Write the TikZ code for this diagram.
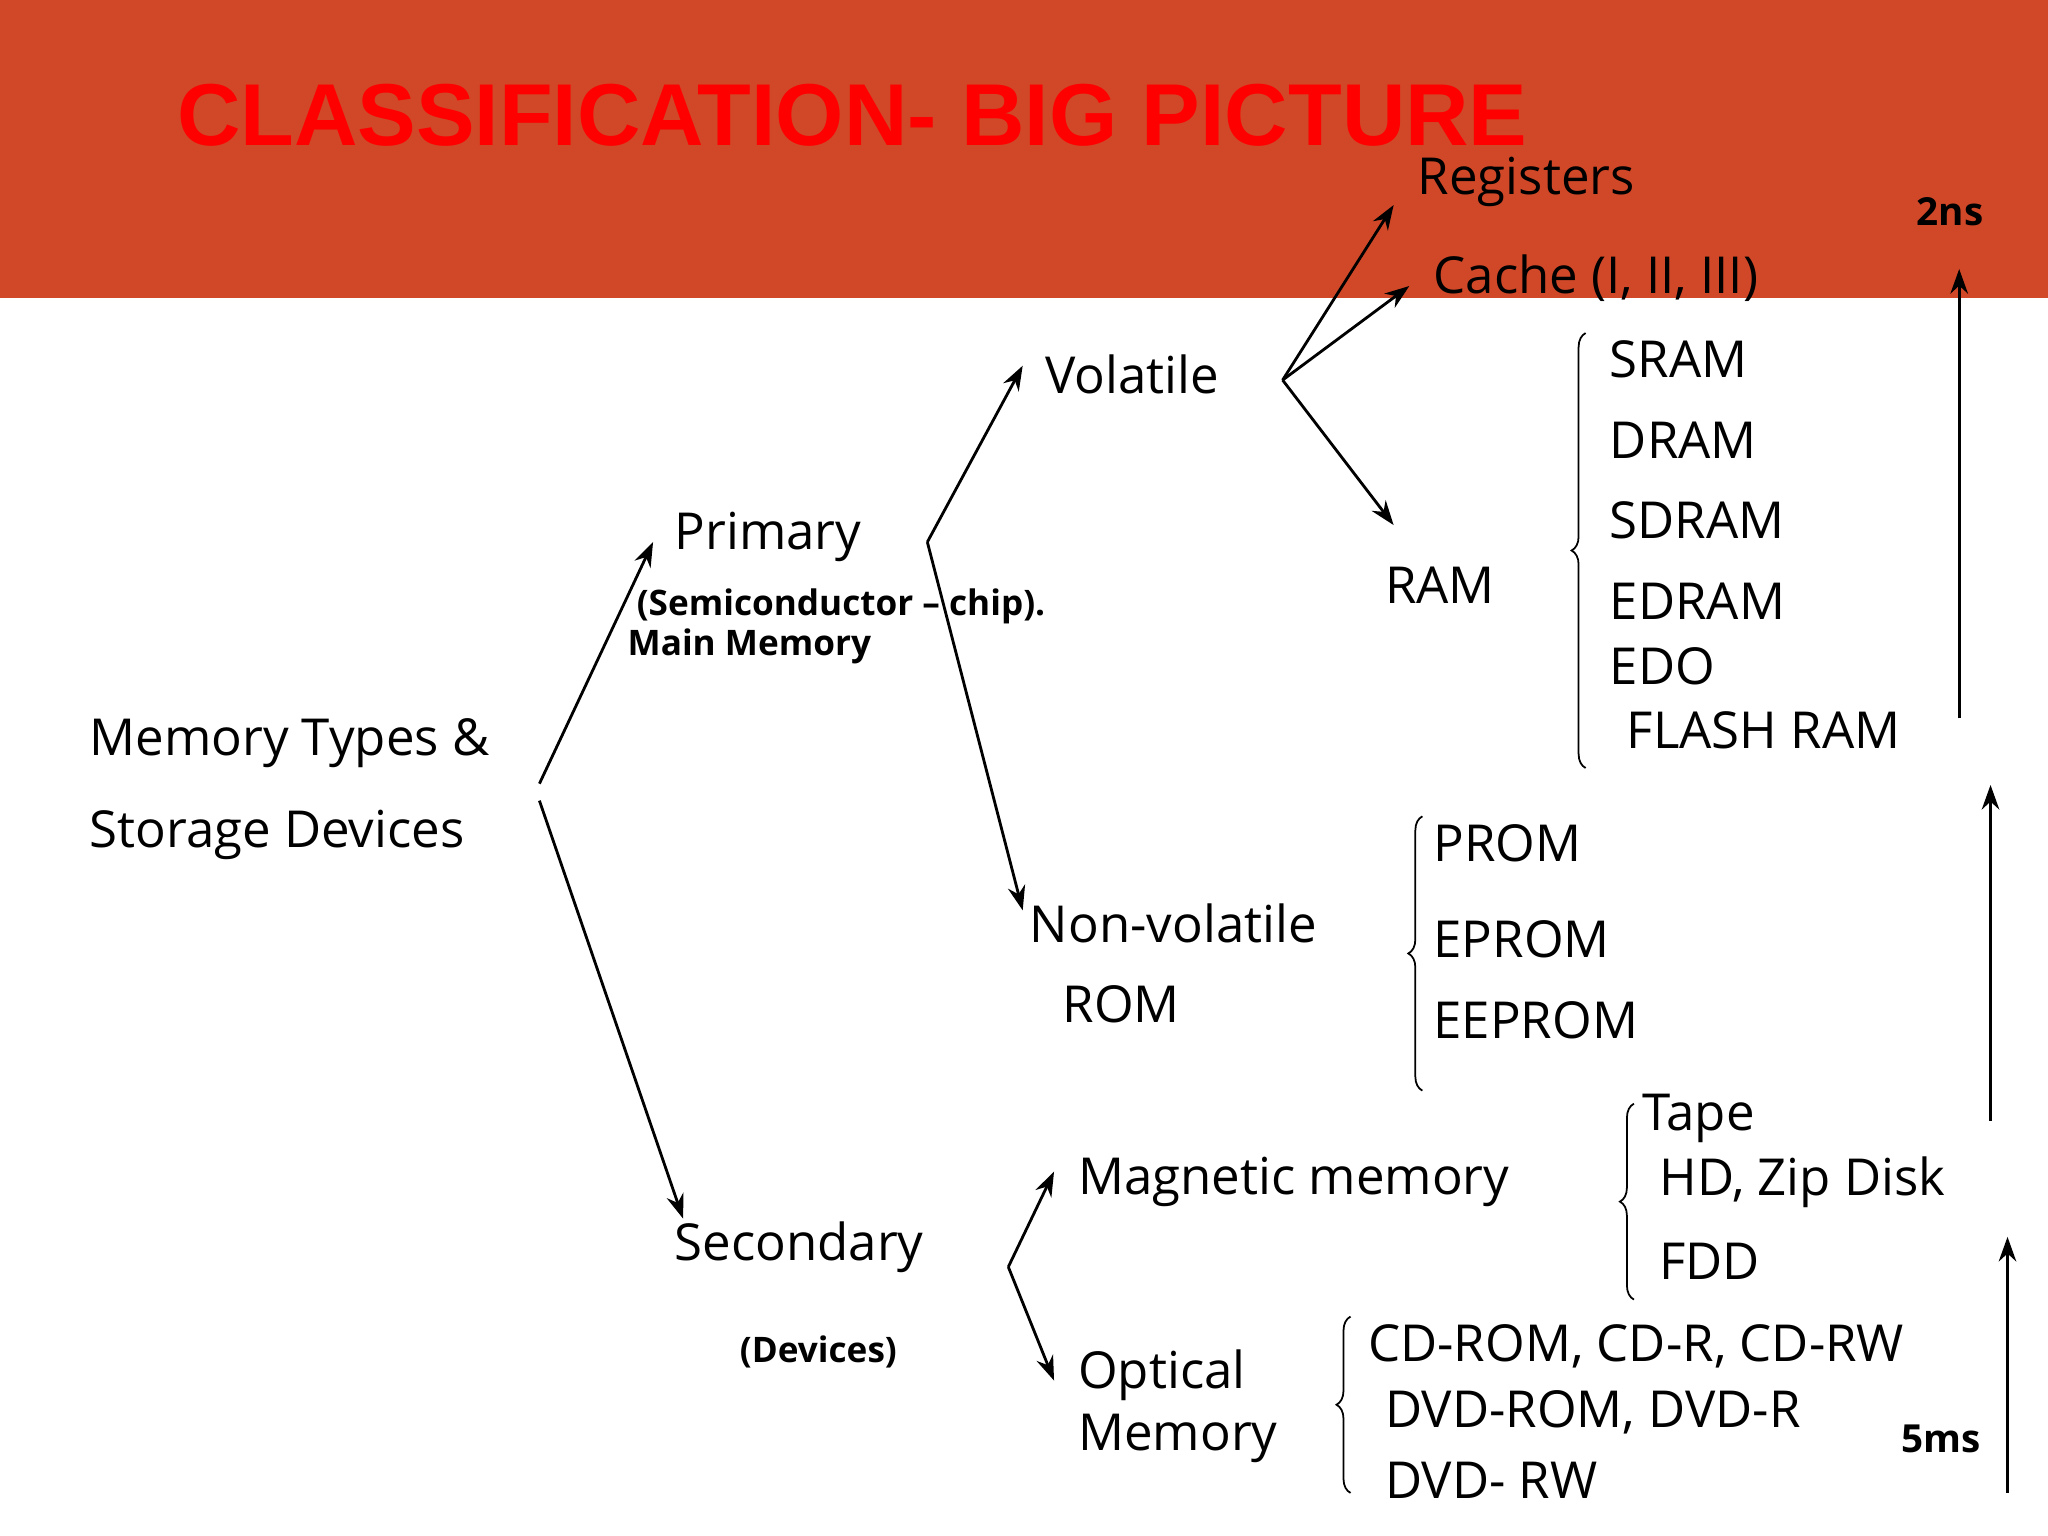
\documentclass[tikz,border=0pt]{standalone}
\usepackage{fontspec}
\setmainfont{Open Sans}
\newfontfamily\titlefont{Liberation Sans}
\usetikzlibrary{arrows.meta,decorations.pathreplacing}
\definecolor{hdr}{HTML}{D14828}
\begin{document}
\begin{tikzpicture}[x=0.013061cm,y=-0.013061cm,
  t/.style={anchor=west,inner sep=0pt,font=\fontsize{14.5}{16}\selectfont},
  bt/.style={anchor=west,inner sep=0pt,font=\fontsize{10}{12}\selectfont\bfseries},
  arr/.style={-{Stealth[length=7pt,width=5pt]},line width=0.8pt},
  br/.style={decorate,decoration={brace,mirror,amplitude=4pt},line width=0.5pt}]
\useasboundingbox (0,0) rectangle (1568,1176);
\fill[white] (0,0) rectangle (1568,1176);
\fill[hdr] (0,0) rectangle (1568,228);
\node[anchor=west,inner sep=0pt,text=red,font=\titlefont\fontsize{25}{28}\selectfont\bfseries] (title) at (135,88) {CLASSIFICATION- BIG PICTURE};
\node[t] (mt) at (68,569) {Memory Types \&};
\node[t] (sd) at (68,639) {Storage Devices};
\node[t] (pri) at (516,411) {Primary};
\node[bt] (semi) at (487,464) {(Semiconductor – chip).};
\node[bt] (mm) at (480,495) {Main Memory};
\node[t] (sec) at (516,955) {Secondary};
\node[bt] (dev) at (566,1035) {(Devices)};
\node[t] (vol) at (800,287) {Volatile};
\node[t] (nv) at (788,707) {Non-volatile};
\node[t] (rom) at (813,769) {ROM};
\node[t] (reg) at (1085,139) {Registers};
\node[t] (cache) at (1097,213) {Cache (I, II, III)};
\node[t] (ram) at (1060,448) {RAM};
\node[t] (sram) at (1232,275) {SRAM};
\node[t] (dram) at (1232,337) {DRAM};
\node[t] (sdram) at (1232,398) {SDRAM};
\node[t] (edram) at (1232,460) {EDRAM};
\node[t] (edo) at (1232,510) {EDO};
\node[t] (flash) at (1245,559) {FLASH RAM};
\node[t] (prom) at (1097,646) {PROM};
\node[t] (eprom) at (1097,719) {EPROM};
\node[t] (eeprom) at (1097,781) {EEPROM};
\node[t] (mag) at (825,905) {Magnetic memory};
\node[t] (opt) at (825,1053) {Optical};
\node[t] (optm) at (825,1101) {Memory};
\node[t] (tape) at (1257,856) {Tape};
\node[t] (hd) at (1270,905) {HD, Zip Disk};
\node[t] (fdd) at (1270,966) {FDD};
\node[t] (cd) at (1047,1031) {CD-ROM, CD-R, CD-RW};
\node[t] (dvd) at (1060,1081) {DVD-ROM, DVD-R};
\node[t] (dvdrw) at (1060,1133) {DVD- RW};
\node[bt,font=\fontsize{11}{13}\selectfont\bfseries] (ns) at (1467,162) {2ns};
\node[bt,font=\fontsize{11}{13}\selectfont\bfseries] (ms) at (1455,1102) {5ms};
% connector coordinates
\coordinate (r0) at (413,600); \coordinate (r1) at (413,613);
\coordinate (p0) at (710,415); \coordinate (v0) at (982,291); \coordinate (s0) at (772,970);
\draw[arr] (r0) -- (500,415);
\draw[arr] (r1) -- (523,933);
\draw[arr] (p0) -- (783,280);
\draw[arr] (p0) -- (783,697);
\draw[arr] (v0) -- (1067,157);
\draw[arr] (v0) -- (1079,219);
\draw[arr] (v0) -- (1067,402);
\draw[arr] (s0) -- (807,897);
\draw[arr] (s0) -- (807,1057);
\draw[arr] (1500,550) -- (1500,206);
\draw[arr] (1524,858) -- (1524,601);
\draw[arr] (1537,1143) -- (1537,947);
% braces
\draw[br] (1214,255) -- (1214,588);
\draw[br] (1089,625) -- (1089,835);
\draw[br] (1251,845) -- (1251,995);
\draw[br] (1034,1008) -- (1034,1143);
\end{tikzpicture}
\end{document}
